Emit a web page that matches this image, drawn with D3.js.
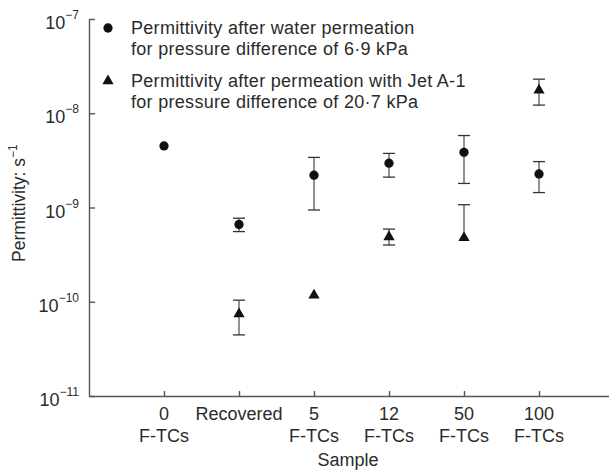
<!DOCTYPE html>
<html>
<head>
<meta charset="utf-8">
<script src="https://cdn.jsdelivr.net/npm/d3@7"></script>
<style>
  body { margin: 0; background: #fff; }
  text { font-family: "Liberation Sans", Arial, sans-serif; fill: #2b2b2b; }
</style>
</head>
<body>
<div id="chart"></div>
<script>
// categories (x positions 1..6)
const samples = [["0", "F-TCs"], ["Recovered", ""], ["5", "F-TCs"], ["12", "F-TCs"], ["50", "F-TCs"], ["100", "F-TCs"]];

// water permeation (circles): value, upper, lower
const waterVal = [4.5e-9, 6.6e-10, 2.2e-9, 2.95e-9, 3.85e-9, 2.27e-9];
const waterHi  = [null, 7.7e-10, 3.4e-9, 3.75e-9, 5.8e-9, 3.07e-9];
const waterLo  = [null, 5.55e-10, 9.4e-10, 2.1e-9, 1.8e-9, 1.44e-9];

// Jet A-1 permeation (triangles)
const jetVal = [null, 7.6e-11, 1.2e-10, 5.0e-10, 4.9e-10, 1.8e-8];
const jetHi  = [null, 1.04e-10, null, 5.9e-10, 1.07e-9, 2.3e-8];
const jetLo  = [null, 4.45e-11, null, 4.0e-10, null, 1.22e-8];

const yTicks = [-11, -10, -9, -8, -7];

const W = 609, H = 471;
const svg = d3.select("#chart").append("svg")
  .attr("width", W)
  .attr("height", H);

const x = d3.scaleLinear().domain([0, 7]).range([89, 614]);
const y = d3.scaleLog().domain([1e-11, 1e-7]).range([396, 19]);

// axes
const axisColor = "#555";
const xAxis = svg.append("g")
  .attr("transform", "translate(0," + y(1e-11) + ")")
  .call(d3.axisBottom(x).tickValues([1, 2, 3, 4, 5, 6]).tickSizeInner(-5).tickSizeOuter(0).tickFormat(""));
xAxis.selectAll("line, path").attr("stroke", axisColor).attr("stroke-width", 1.4);

const yAxis = svg.append("g")
  .attr("transform", "translate(" + x(0) + ",0)")
  .call(d3.axisLeft(y).tickValues(yTicks.map(e => Math.pow(10, e))).tickSizeInner(-6).tickSizeOuter(0).tickFormat(""));
yAxis.selectAll("line, path").attr("stroke", axisColor).attr("stroke-width", 1.4);

// y tick labels 10^n
yTicks.forEach(e => {
  const t = svg.append("text")
    .attr("x", 79)
    .attr("y", y(Math.pow(10, e)) + 10)
    .attr("text-anchor", "end")
    .attr("font-size", "18px");
  t.append("tspan").text("10");
  t.append("tspan").attr("dy", -10).attr("font-size", "12px").text("\u2212" + Math.abs(e));
});

// x tick labels
samples.forEach((s, i) => {
  svg.append("text")
    .attr("x", x(i + 1))
    .attr("y", 420)
    .attr("text-anchor", "middle")
    .attr("font-size", "18px")
    .text(s[0]);
  if (s[1]) {
    svg.append("text")
      .attr("x", x(i + 1))
      .attr("y", 442)
      .attr("text-anchor", "middle")
      .attr("font-size", "18px")
      .text(s[1]);
  }
});

// axis titles
svg.append("text")
  .attr("x", 348)
  .attr("y", 466)
  .attr("text-anchor", "middle")
  .attr("font-size", "18px")
  .text("Sample");

const yl = svg.append("text")
  .attr("transform", "translate(25,262) rotate(-90)")
  .attr("font-size", "17.5px");
yl.append("tspan").text("Permittivity: s");
yl.append("tspan").attr("dy", -8).attr("font-size", "12px").text("\u22121");

// error bars
function errBars(vals, hi, lo) {
  vals.forEach((v, i) => {
    if (v == null) return;
    const top = hi[i] != null ? hi[i] : v;
    const bot = lo[i] != null ? lo[i] : v;
    if (top === bot) return;
    const cx = x(i + 1);
    svg.append("line")
      .attr("x1", cx).attr("x2", cx)
      .attr("y1", y(top)).attr("y2", y(bot))
      .attr("stroke", "#777").attr("stroke-width", 1.6);
    [hi[i], lo[i]].forEach(c => {
      if (c == null) return;
      svg.append("line")
        .attr("x1", cx - 6).attr("x2", cx + 6)
        .attr("y1", y(c)).attr("y2", y(c))
        .attr("stroke", "#333").attr("stroke-width", 1.3);
    });
  });
}
errBars(waterVal, waterHi, waterLo);
errBars(jetVal, jetHi, jetLo);

const circleSym = d3.symbol().type(d3.symbolCircle).size(68);
const triSym = d3.symbol().type(d3.symbolTriangle).size(55);

svg.selectAll(".water")
  .data(waterVal.map((v, i) => ({ v, i })).filter(d => d.v != null))
  .enter()
  .append("path")
  .attr("class", "water")
  .attr("d", circleSym)
  .attr("transform", d => "translate(" + x(d.i + 1) + "," + y(d.v) + ")")
  .attr("fill", "#111");

svg.selectAll(".jet")
  .data(jetVal.map((v, i) => ({ v, i })).filter(d => d.v != null))
  .enter()
  .append("path")
  .attr("class", "jet")
  .attr("d", triSym)
  .attr("transform", d => "translate(" + x(d.i + 1) + "," + (y(d.v) + 1) + ")")
  .attr("fill", "#111");

// legend
const legendItems = [
  { sym: circleSym, lines: ["Permittivity after water permeation", "for pressure difference of 6\u00b79 kPa"], y: 28 },
  { sym: triSym, lines: ["Permittivity after permeation with Jet A-1", "for pressure difference of 20\u00b77 kPa"], y: 81 }
];
legendItems.forEach(d => {
  svg.append("path")
    .attr("d", d.sym)
    .attr("transform", "translate(108," + d.y + ")")
    .attr("fill", "#111");
  d.lines.forEach((l, j) => {
    svg.append("text")
      .attr("x", 131)
      .attr("y", d.y + 6 + j * 21)
      .attr("font-size", "18px")
      .attr("letter-spacing", "0.3px")
      .text(l);
  });
});
</script>
</body>
</html>
